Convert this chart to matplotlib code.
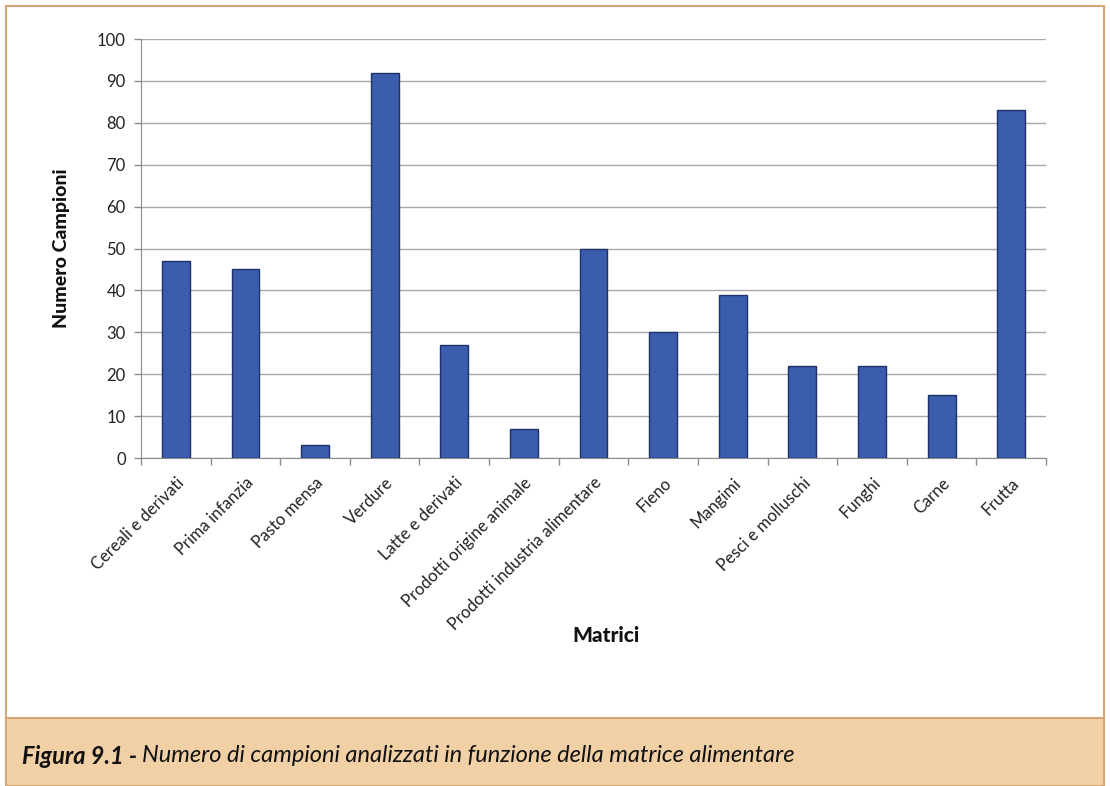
import matplotlib
matplotlib.use("Agg")
import matplotlib.pyplot as plt
from matplotlib.patches import Rectangle

categorie = ["Cereali e derivati", "Prima infanzia", "Pasto mensa", "Verdure",
             "Latte e derivati", "Prodotti origine animale",
             "Prodotti industria alimentare", "Fieno", "Mangimi",
             "Pesci e molluschi", "Funghi", "Carne", "Frutta"]
campioni = [47, 45, 3, 92, 27, 7, 50, 30, 39, 22, 22, 15, 83]
yticks = [0, 10, 20, 30, 40, 50, 60, 70, 80, 90, 100]

plt.rcParams['font.family'] = ['Lato', 'DejaVu Sans']

W, H = 1110, 786
fig = plt.figure(figsize=(W / 100, H / 100), dpi=100)
fig.patch.set_facecolor("white")

# frame and caption band
border = "#D6A679"
fig.patches.append(Rectangle((6 / W, 0), (W - 12) / W, (H - 6) / H,
                             transform=fig.transFigure, facecolor="white",
                             edgecolor=border, linewidth=1.5, zorder=-2))
fig.patches.append(Rectangle((6 / W, 0), (W - 12) / W, (H - 718) / H,
                             transform=fig.transFigure, facecolor="#F2D0A6",
                             edgecolor=border, linewidth=1.5, zorder=-1))

ax = fig.add_axes([141 / W, 1 - 458 / H, (1046 - 141) / W, (458 - 39) / H])
ax.set_zorder(5)
ax.set_facecolor("white")
x = range(len(categorie))
ax.bar(x, campioni, width=0.4, color="#3A5DAE", edgecolor="#1E3268",
       linewidth=1.0, zorder=3)

ax.set_xlim(-0.5, len(categorie) - 0.5)
ax.set_ylim(0, 100)
ax.set_yticks(yticks)
ax.set_yticklabels([str(v) for v in yticks], fontsize=12, color="#222222")
ax.grid(axis="y", color="#A8A8A8", linewidth=1.0, zorder=0)
ax.set_axisbelow(True)

ax.set_xticks(x)
ax.set_xticklabels(categorie, rotation=45, ha="right", rotation_mode="anchor",
                   fontsize=12, color="#222222")
ax.tick_params(axis="x", length=0, pad=12)
# boundary ticks between categories
ax.set_xticks([i - 0.5 for i in range(len(categorie) + 1)], minor=True)
ax.tick_params(axis="x", which="minor", length=5, color="#8C8C8C", width=1)
ax.tick_params(axis="y", length=5, color="#8C8C8C", width=1, pad=6)

for s in ["top", "right"]:
    ax.spines[s].set_visible(False)
ax.spines["left"].set_color("#8C8C8C")
ax.spines["bottom"].set_color("#8C8C8C")

fig.text(62 / W, 1 - 248 / H, "Numero Campioni", rotation=90, fontsize=14,
         fontweight="black", ha="center", va="center", color="#111111")
fig.text(606 / W, 1 - 636 / H, "Matrici", fontsize=15, fontweight="black",
         ha="center", va="center", color="#111111")

t1 = fig.text(22 / W, 1 - 756 / H, "Figura 9.1 - ", fontsize=17,
              fontweight="bold", fontstyle="italic", ha="left", va="center",
              color="#111111")
fig.canvas.draw()
bb = t1.get_window_extent()
fig.text(bb.x1 / W, 1 - 756 / H,
         "Numero di campioni analizzati in funzione della matrice alimentare",
         fontsize=17, fontstyle="italic", ha="left", va="center",
         color="#111111")

fig.savefig("out.png", dpi=100)
